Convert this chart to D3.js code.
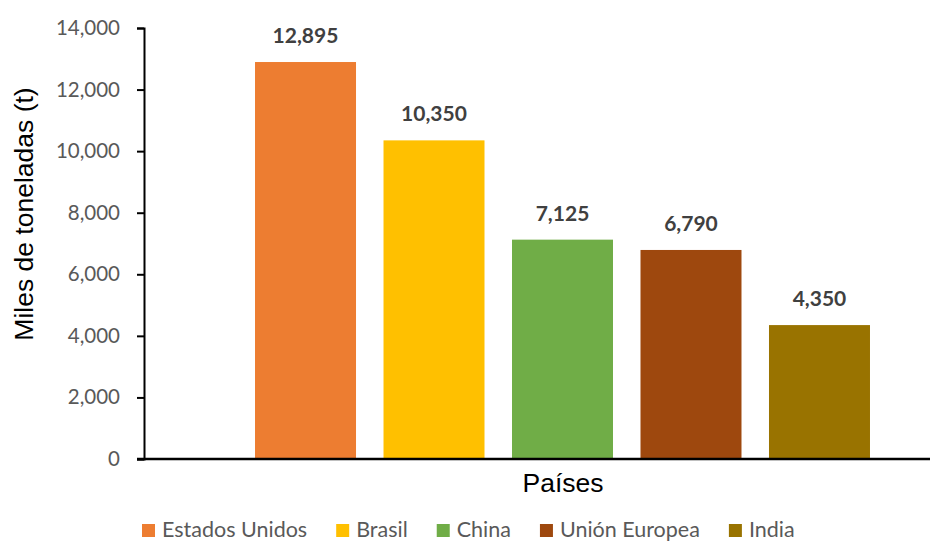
<!DOCTYPE html>
<html>
<head>
<meta charset="utf-8">
<script src="https://cdn.jsdelivr.net/npm/d3@7"></script>
<style>
  html, body { margin: 0; padding: 0; background: #fff; }
  svg { display: block; }
</style>
</head>
<body>
<svg id="chart" width="930" height="542"></svg>
<script>
// Production by country (thousand tonnes)
const countries = ["Estados Unidos", "Brasil", "China", "Unión Europea", "India"];
const values = [12895, 10350, 7125, 6790, 4350];
const colors = ["#ED7D31", "#FFC000", "#70AD47", "#9E480E", "#997300"];
const yTicks = [0, 2000, 4000, 6000, 8000, 10000, 12000, 14000];
const groupLabel = ["Países"];

const svg = d3.select("#chart");
const fmt = d3.format(",");

// Plot area (the right side runs past the visible canvas)
const plotLeft = 144, plotRight = 981, plotTop = 28, plotBottom = 459;

const x0 = d3.scaleBand().domain(groupLabel).range([plotLeft, plotRight])
  .paddingInner(0).paddingOuter(0.1514);
const x1 = d3.scaleBand().domain(countries).range([0, x0.bandwidth()])
  .paddingInner(0.214).paddingOuter(0.107);
const y = d3.scaleLinear().domain([0, 14000]).range([plotBottom, plotTop]);

const data = countries.map((c, i) => ({ c, v: values[i], col: colors[i] }));

// Bars
const g = svg.append("g").attr("transform", `translate(${x0(groupLabel[0])},0)`);
g.selectAll("rect").data(data).join("rect")
  .attr("x", d => x1(d.c))
  .attr("y", d => y(d.v))
  .attr("width", x1.bandwidth())
  .attr("height", d => y(0) - y(d.v))
  .attr("fill", d => d.col);

// Value labels
g.selectAll("text.val").data(data).join("text")
  .attr("class", "val")
  .attr("x", d => x1(d.c) + x1.bandwidth() / 2)
  .attr("y", d => y(d.v) - 19)
  .attr("text-anchor", "middle")
  .attr("font-family", "Lato, 'Open Sans', sans-serif")
  .attr("font-weight", "bold")
  .attr("font-size", 21)
  .attr("fill", "#404040")
  .text(d => fmt(d.v));

// Y axis
const yAxis = svg.append("g")
  .attr("transform", `translate(${plotLeft},0)`)
  .call(d3.axisLeft(y).tickValues(yTicks).tickFormat(fmt).tickSize(7).tickSizeOuter(7).tickPadding(17));
yAxis.select(".domain").attr("stroke", "#000").attr("stroke-width", 2);
yAxis.selectAll(".tick line").attr("stroke", "#000").attr("stroke-width", 2);
yAxis.selectAll(".tick text")
  .attr("font-family", "Lato, 'Open Sans', sans-serif")
  .attr("font-size", 20.5)
  .attr("fill", "#595959");

// X axis baseline
svg.append("line")
  .attr("x1", plotLeft - 7).attr("x2", plotRight)
  .attr("y1", y(0)).attr("y2", y(0))
  .attr("stroke", "#000").attr("stroke-width", 2.5);

// Axis titles
svg.append("text")
  .attr("transform", "translate(33,214) rotate(-90)")
  .attr("text-anchor", "middle")
  .attr("font-family", "Arial, 'Liberation Sans', sans-serif")
  .attr("font-size", 26.5)
  .attr("fill", "#000")
  .text("Miles de toneladas (t)");

svg.append("text")
  .attr("x", 563).attr("y", 492)
  .attr("text-anchor", "middle")
  .attr("font-family", "Arial, 'Liberation Sans', sans-serif")
  .attr("font-size", 26.5)
  .attr("fill", "#000")
  .text(groupLabel[0]);

// Legend along the bottom edge
const legend = svg.append("g");
let lx = 142;
data.forEach(d => {
  const item = legend.append("g").attr("transform", `translate(${lx},0)`);
  item.append("rect").attr("x", 0).attr("y", 524).attr("width", 13).attr("height", 13).attr("fill", d.col);
  const t = item.append("text")
    .attr("x", 20).attr("y", 536.5)
    .attr("font-family", "Lato, 'Open Sans', sans-serif")
    .attr("font-size", 21.5)
    .attr("fill", "#595959")
    .text(d.c);
  lx += 20 + t.node().getComputedTextLength() + 29;
});
</script>
</body>
</html>
